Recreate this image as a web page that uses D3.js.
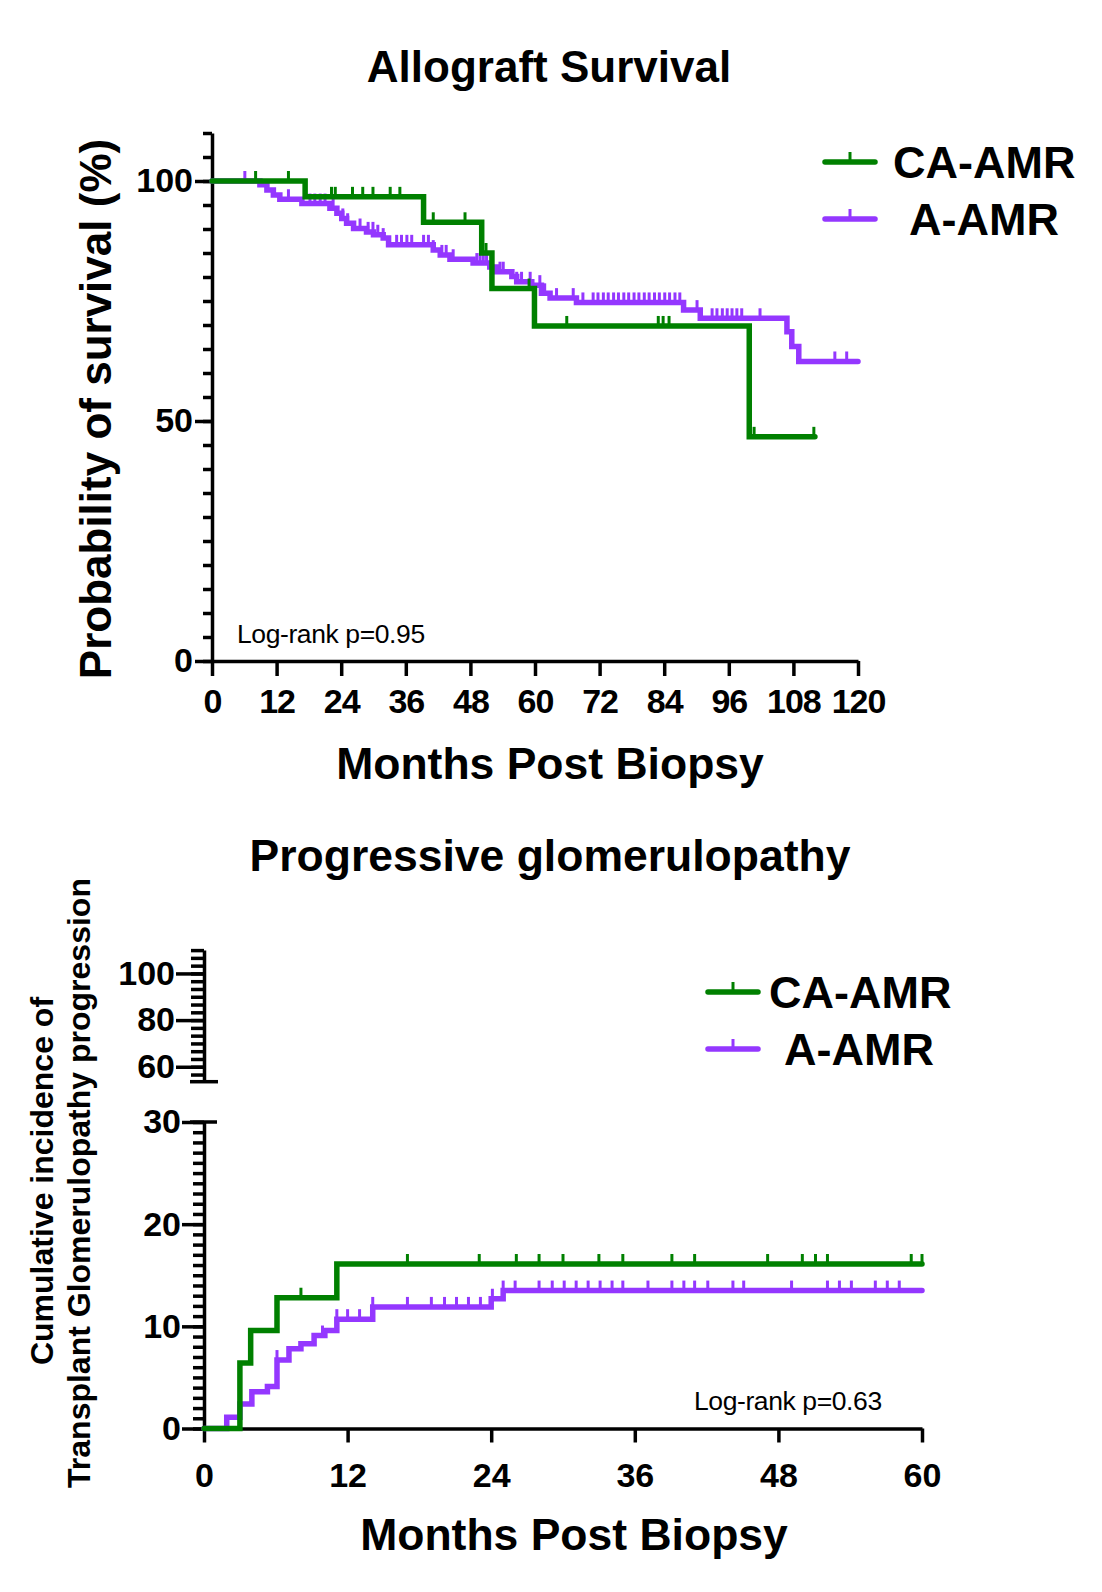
<!DOCTYPE html>
<html>
<head>
<meta charset="utf-8">
<script src="https://cdn.jsdelivr.net/npm/d3@7"></script>
<style>
  body { margin: 0; background: #fff; }
  svg { display: block; font-family: "Liberation Sans", Arial, Helvetica, sans-serif; }
</style>
</head>
<body>
<svg id="chart" width="1102" height="1592"></svg>
<script>
// ---- data (months, percent) ----
const seriesNames = ['CA-AMR', 'A-AMR'];

// Allograft survival: step points [month, % surviving], last point = end of follow-up
const survivalCA = [[0, 100], [17.3, 96.7], [39.3, 91.4], [50.1, 85.0], [52.0, 77.6], [59.9, 69.8], [99.8, 46.7], [112, 46.7]];
const survivalCACensored = [8.1, 14.2, 22.2, 22.9, 26.1, 28.0, 29.9, 33.1, 34.9, 41.1, 47.0, 50.9, 58.9, 65.9, 82.9, 83.8, 84.9, 100.7, 111.8];
const survivalA = [[0, 100], [8.9, 99.2], [10.2, 98.1], [11.4, 97.1], [12.6, 96.2], [16.7, 95.3], [21.9, 94.3], [23.2, 93.3],
  [24.1, 92.2], [25.0, 91.2], [26.3, 90.1], [28.7, 89.4], [30.0, 88.8], [31.8, 88.1], [32.8, 86.7], [41.1, 85.6], [42.4, 84.6],
  [44.2, 83.7], [48.5, 82.9], [51.6, 82.1], [52.9, 81.1], [55.7, 80.1], [56.6, 79.0], [59.4, 78.3], [61.2, 76.6], [62.8, 75.6],
  [67.7, 74.7], [87.6, 73.1], [90.7, 71.4], [106.8, 68.6], [107.7, 65.5], [109.0, 62.4], [120, 62.4]];
const survivalACensored = [6.1, 14.2, 18.2, 19.1, 20.1, 21.0, 22.5, 24.3, 25.2, 27.5, 29.0, 29.9, 30.8, 31.8, 34.3, 35.2, 36.2, 37.1,
  39.3, 40.2, 41.1, 42.7, 43.5, 44.8, 49.2, 49.8, 50.4, 51.0, 53.5, 54.1, 56.6, 57.5, 59.1, 60.9, 61.8, 64.0, 67.1, 68.9,
  70.8, 71.7, 72.7, 73.6, 74.6, 75.5, 76.5, 77.4, 78.4, 79.3, 80.3, 81.2, 82.2, 83.1, 84.1, 85.0, 86.0, 86.9, 90.1,
  92.9, 93.8, 94.8, 95.7, 96.6, 97.5, 98.4, 101.8, 115.7, 117.9];

// Transplant glomerulopathy progression: cumulative incidence
const tgCA = [[0, 0], [3.0, 6.4], [3.9, 9.6], [6.1, 12.8], [11.1, 16.1], [60, 16.1]];
const tgCACensored = [8.1, 17.0, 23.0, 26.1, 28.0, 30.0, 33.0, 35.0, 39.1, 41.0, 47.1, 50.0, 51.1, 52.1, 59.1, 60];
const tgA = [[0, 0], [1.9, 1.1], [3.0, 2.4], [4.0, 3.6], [5.3, 4.1], [6.1, 6.7], [7.1, 7.8], [8.1, 8.3], [9.2, 9.1],
  [10.1, 9.6], [11.1, 10.7], [14.1, 11.9], [24.0, 12.7], [25.0, 13.5], [60, 13.5]];
const tgACensored = [6.1, 9.9, 11.1, 12.0, 13.0, 14.1, 17.0, 19.0, 20.1, 21.1, 22.1, 23.1, 24.1, 25.0, 26.0, 28.0, 29.1,
  30.1, 31.1, 32.1, 33.1, 34.1, 35.0, 37.1, 39.1, 40.1, 41.0, 42.1, 44.2, 45.1, 49.1, 52.1, 53.1, 54.1, 56.1, 57.1, 58.1];

const xTicksTop = d3.range(0, 121, 12);
const yLabelsTop = [0, 50, 100];
const xTicksBottom = d3.range(0, 61, 12);
const yLabelsLow = [0, 10, 20, 30];
const yLabelsHigh = [60, 80, 100];

const GREEN = '#008000';
const PURPLE = '#9437ff';

const svg = d3.select('#chart');
svg.append('rect').attr('width', 1102).attr('height', 1592).attr('fill', '#fff');

function styleAxis(g, size) {
  g.selectAll('path, line').attr('stroke', '#000').attr('stroke-width', 3.5);
  g.selectAll('text').attr('fill', '#000').attr('font-weight', 'bold')
    .attr('font-size', size || 34).attr('font-family', '"Liberation Sans", Arial, sans-serif');
}

function valueAt(steps, t) {
  let v = steps[0][1];
  steps.forEach(function(s) { if (s[0] <= t) v = s[1]; });
  return v;
}

function drawCurve(x, y, steps, censored, color) {
  let line = d3.line().x(d => x(d[0])).y(d => y(d[1])).curve(d3.curveStepAfter);
  let g = svg.append('g');
  g.append('path').attr('d', line(steps)).attr('fill', 'none')
    .attr('stroke', color).attr('stroke-width', 5.5).attr('stroke-linecap', 'round');
  g.selectAll('line').data(censored).enter().append('line')
    .attr('x1', d => x(d)).attr('x2', d => x(d))
    .attr('y1', d => y(valueAt(steps, d)))
    .attr('y2', d => y(valueAt(steps, d)) - 10)
    .attr('stroke', color).attr('stroke-width', 3);
}

function legendRow(x, y, label, color, textX) {
  svg.append('line').attr('x1', x).attr('x2', x + 50).attr('y1', y).attr('y2', y)
    .attr('stroke', color).attr('stroke-width', 5.5).attr('stroke-linecap', 'round');
  svg.append('line').attr('x1', x + 25).attr('x2', x + 25).attr('y1', y).attr('y2', y - 10)
    .attr('stroke', color).attr('stroke-width', 3);
  svg.append('text').attr('x', textX).attr('y', y + 16).attr('font-size', 45)
    .attr('font-weight', 'bold').text(label);
}

function text(x, y, str, size, opts) {
  opts = opts || {};
  let t = svg.append('text').attr('x', x).attr('y', y).attr('font-size', size)
    .attr('font-weight', opts.weight || 'bold').attr('text-anchor', opts.anchor || 'middle').text(str);
  if (opts.rotate) t.attr('transform', 'rotate(-90,' + x + ',' + y + ')');
  return t;
}

// ================= top: Allograft Survival =================
const xTop = d3.scaleLinear().domain([0, 120]).range([212, 858]);
const yTop = d3.scaleLinear().domain([0, 110]).range([661, 133]);

svg.append('g').attr('transform', 'translate(212,0)')
  .call(d3.axisLeft(yTop).tickValues(d3.range(0, 111, 5)).tickSize(9).tickSizeOuter(0).tickFormat(''))
  .call(styleAxis);
svg.append('g').attr('transform', 'translate(212,0)')
  .call(d3.axisLeft(yTop).tickValues(yLabelsTop).tickSize(17).tickPadding(2).tickSizeOuter(0))
  .call(g => g.select('.domain').remove())
  .call(styleAxis);
svg.append('g').attr('transform', 'translate(0,661)')
  .call(d3.axisBottom(xTop).tickValues(xTicksTop).tickSize(15).tickPadding(13).tickSizeOuter(0))
  .call(styleAxis)
  .call(g => g.selectAll('text').attr('letter-spacing', -1));

drawCurve(xTop, yTop, survivalA, survivalACensored, PURPLE);
drawCurve(xTop, yTop, survivalCA, survivalCACensored, GREEN);

text(549, 82, 'Allograft Survival', 44);
text(111, 409, 'Probability of survival (%)', 44, { rotate: true });
text(550, 779, 'Months Post Biopsy', 44.5);
text(237, 643, 'Log-rank p=0.95', 26.5, { weight: 'normal', anchor: 'start' }).attr('letter-spacing', -0.4);

legendRow(825, 162, seriesNames[0], GREEN, 893);
legendRow(825, 219, seriesNames[1], PURPLE, 909);

// ================= bottom: Progressive glomerulopathy =================
const xBot = d3.scaleLinear().domain([0, 60]).range([204, 922]);
const yLow = d3.scaleLinear().domain([0, 30]).range([1428.5, 1122]);
const yHigh = d3.scaleLinear().domain([53.6, 110]).range([1081.7, 950.1]);

// lower segment
svg.append('g').attr('transform', 'translate(204,0)')
  .call(d3.axisLeft(yLow).tickValues(d3.range(0, 31, 1)).tickSize(11).tickSizeOuter(0).tickFormat(''))
  .call(styleAxis);
svg.append('g').attr('transform', 'translate(204,0)')
  .call(d3.axisLeft(yLow).tickValues(yLabelsLow).tickSize(22).tickPadding(1).tickSizeOuter(0))
  .call(g => g.select('.domain').remove())
  .call(styleAxis);
svg.append('line').attr('x1', 190).attr('x2', 217).attr('y1', yLow(30)).attr('y2', yLow(30))
  .attr('stroke', '#000').attr('stroke-width', 3.5);

// upper segment
svg.append('g').attr('transform', 'translate(204,0)')
  .call(d3.axisLeft(yHigh).tickValues(d3.range(110, 56, -10 / 3)).tickSize(13).tickSizeOuter(0).tickFormat(''))
  .call(styleAxis);
svg.append('g').attr('transform', 'translate(204,0)')
  .call(d3.axisLeft(yHigh).tickValues(yLabelsHigh).tickSize(28).tickPadding(1).tickSizeOuter(0))
  .call(g => g.select('.domain').remove())
  .call(styleAxis);
svg.append('line').attr('x1', 190).attr('x2', 218).attr('y1', yHigh(53.6)).attr('y2', yHigh(53.6))
  .attr('stroke', '#000').attr('stroke-width', 3.5);

svg.append('g').attr('transform', 'translate(0,1428.5)')
  .call(d3.axisBottom(xBot).tickValues(xTicksBottom).tickSize(14).tickPadding(20).tickSizeOuter(0))
  .call(styleAxis);

drawCurve(xBot, yLow, tgA, tgACensored, PURPLE);
drawCurve(xBot, yLow, tgCA, tgCACensored, GREEN);

text(550, 871, 'Progressive glomerulopathy', 44.5);
text(53, 1181, 'Cumulative incidence of', 32, { rotate: true });
text(90, 1183, 'Transplant Glomerulopathy progression', 32, { rotate: true });
text(574, 1550, 'Months Post Biopsy', 44.5);
text(694, 1410, 'Log-rank p=0.63', 26.5, { weight: 'normal', anchor: 'start' }).attr('letter-spacing', -0.4);

legendRow(708, 992, seriesNames[0], GREEN, 769);
legendRow(708, 1049, seriesNames[1], PURPLE, 784);
</script>
</body>
</html>
